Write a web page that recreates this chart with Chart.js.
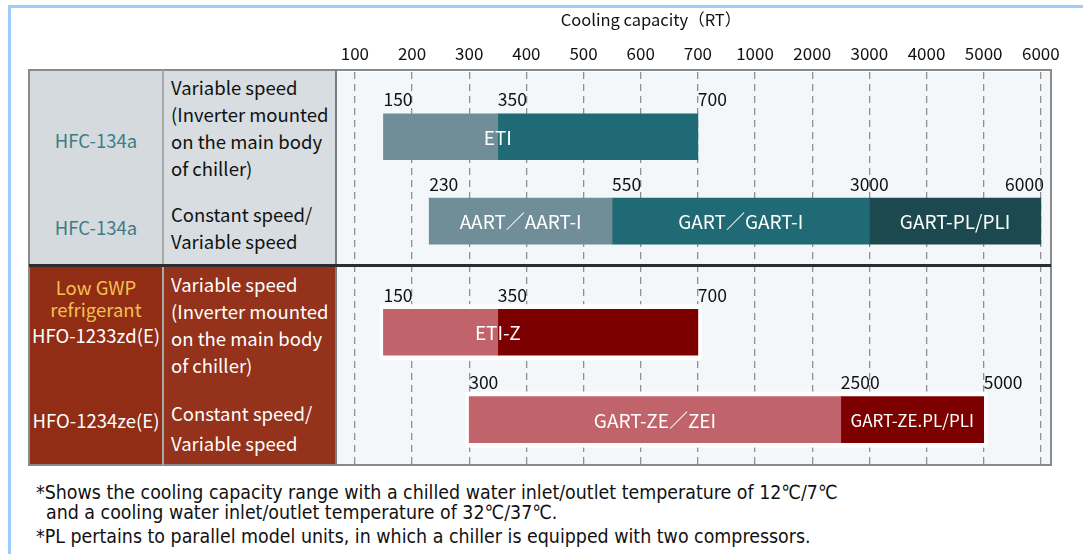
<!DOCTYPE html>
<html><head><meta charset="utf-8">
<script src="https://cdn.jsdelivr.net/npm/chart.js@4.4.1/dist/chart.umd.min.js"></script>
<style>
html,body{margin:0;padding:0;background:#fff;}
body{width:1083px;height:554px;overflow:hidden;position:relative;font-family:"Noto Sans CJK JP","Noto Sans",sans-serif;}
.abs{position:absolute;}
.t{position:absolute;white-space:nowrap;font-size:18.5px;line-height:26px;color:#111;}
.c1{left:29px;width:134px;text-align:center;font-size:18.5px;}
.c2{left:171px;}
.foot{position:absolute;left:36px;white-space:nowrap;font-family:"DejaVu Sans Condensed","DejaVu Sans",sans-serif;font-stretch:condensed;font-size:19.4px;line-height:22px;color:#111;}
</style></head>
<body>
<!-- light blue frame -->
<div class="abs" style="left:8px;top:5px;width:1075px;height:3px;background:#9fcbf9"></div>
<div class="abs" style="left:8px;top:5px;width:3px;height:549px;background:#9fcbf9"></div>

<!-- table cells -->
<div class="abs" style="left:29px;top:70px;width:134px;height:195px;background:#d4dadd"></div>
<div class="abs" style="left:163px;top:70px;width:173px;height:195px;background:#d7dde0"></div>
<div class="abs" style="left:29px;top:265px;width:134px;height:200px;background:#912c15"></div>
<div class="abs" style="left:163px;top:265px;width:173px;height:200px;background:#94321b"></div>

<!-- column 1 texts -->
<div class="t c1" style="top:127px;color:#3d7c86">HFC-134a</div>
<div class="t c1" style="top:214px;color:#3d7c86">HFC-134a</div>
<div class="t c1" style="top:276px;line-height:22px;color:#f1c24f">Low GWP<br>refrigerant</div>
<div class="t c1" style="top:322px;color:#fff">HFO-1233zd(E)</div>
<div class="t c1" style="top:407px;color:#fff">HFO-1234ze(E)</div>

<!-- column 2 texts -->
<div class="t c2" style="top:74px;line-height:27px">Variable speed<br>(Inverter mounted<br>on the main body<br>of chiller)</div>
<div class="t c2" style="top:201px;line-height:27px">Constant speed/<br>Variable speed</div>
<div class="t c2" style="top:271px;line-height:27px;color:#fff">Variable speed<br>(Inverter mounted<br>on the main body<br>of chiller)</div>
<div class="t c2" style="top:398px;line-height:30px;color:#fff">Constant speed/<br>Variable speed</div>

<!-- charts -->
<div class="abs" style="left:252px;top:0px;width:831px;height:265px"><canvas id="chartA"></canvas></div>
<div class="abs" style="left:252px;top:265px;width:831px;height:200px"><canvas id="chartB"></canvas></div>

<!-- table rules -->
<div class="abs" style="left:28px;top:69px;width:1024px;height:397px;box-sizing:border-box;border:2px solid #8a8a8a"></div>
<div class="abs" style="left:162px;top:70px;width:2px;height:395px;background:#a9a9a9"></div>
<div class="abs" style="left:335px;top:70px;width:2px;height:395px;background:#7b7b7b"></div>
<div class="abs" style="left:29px;top:264px;width:1022px;height:3px;background:#2c2c2c"></div>

<!-- footnotes -->
<div class="foot" style="top:482px">*Shows the cooling capacity range with a chilled water inlet/outlet temperature of 12℃/7℃</div>
<div class="foot" style="top:502px;left:46px">and a cooling water inlet/outlet temperature of 32℃/37℃.</div>
<div class="foot" style="top:526px">*PL pertains to parallel model units, in which a chiller is equipped with two compressors.</div>

<script>
// ---- data ----
const tickLabels = ['100','200','300','400','500','600','700','1000','2000','3000','4000','5000','6000'];
const rowNames   = ['HFC-134a variable', 'HFC-134a constant', 'HFO-1233zd(E) variable', 'HFO-1234ze(E) constant'];
const lowFrom    = [150, 230, 150, 300];
const lowTo      = [350, 550, 350, 2500];
const highTo     = [700, 3000, 700, 5000];
const plTo       = [null, 6000, null, null];
const lowModels  = [null, 'AART／AART-I', null, 'GART-ZE／ZEI'];
const highModels = [null, 'GART／GART-I', null, 'GART-ZE.PL/PLI'];
const plModels   = [null, 'GART-PL/PLI', null, null];
const rowModels  = ['ETI', null, 'ETI-Z', null];

// ---- styles ----
const lowColors  = ['#6f8e98', '#6f8e98', '#c0636a', '#c0636a'];
const highColors = ['#1f6a74', '#1f6a75', '#7c0000', '#7c0000'];
const plColors   = ['#1c494f', '#1c494f', '#1c494f', '#1c494f'];
const FONT = '"Noto Sans CJK JP", "Noto Sans", sans-serif';

const tickValues = tickLabels.map(Number);
// position on the evenly spaced capacity axis (piecewise between ticks)
function toPos(v) {
  for (let i = 0; i < tickValues.length - 1; i++) {
    if (v <= tickValues[i + 1]) return i + (v - tickValues[i]) / (tickValues[i + 1] - tickValues[i]);
  }
  return tickValues.length - 1;
}
const rowEnd = r => plTo[r] != null ? plTo[r] : highTo[r];

const bgPlugin = {
  id: 'areaBg',
  beforeDraw(chart) {
    const a = chart.chartArea, ctx = chart.ctx;
    ctx.save(); ctx.fillStyle = '#f4f7f9';
    ctx.fillRect(a.left, a.top, a.right - a.left, a.bottom - a.top);
    ctx.restore();
  },
  beforeDatasetsDraw(chart, args) {
    const o = chart.options.plugins.rangeLabels;
    if (!o.outline) return;
    const ctx = chart.ctx, xs = chart.scales.x, ys = chart.scales.y;
    ctx.save(); ctx.fillStyle = '#ffffff';
    o.rows.forEach((r, k) => {
      const yc = ys.getPixelForValue(k);
      const x0 = xs.getPixelForValue(toPos(lowFrom[r])) - 4;
      const x1 = xs.getPixelForValue(toPos(rowEnd(r))) + 4;
      ctx.fillRect(x0, yc - 28, x1 - x0, 56);
    });
    ctx.restore();
  }
};

const labelPlugin = {
  id: 'rangeLabels',
  afterDatasetsDraw(chart, args, opts) {
    const ctx = chart.ctx, xs = chart.scales.x, ys = chart.scales.y, area = chart.chartArea;
    ctx.save();
    opts.rows.forEach((r, k) => {
      const yc = ys.getPixelForValue(k);
      const bounds = [lowFrom[r], lowTo[r], highTo[r], plTo[r]].filter(v => v != null);
      ctx.font = '17.5px ' + FONT; ctx.fillStyle = '#111'; ctx.textBaseline = 'middle';
      bounds.forEach(v => {
        let x = xs.getPixelForValue(toPos(v));
        const w = ctx.measureText(String(v)).width;
        let align = (opts.align && opts.align[v]) || 'left';
        if (align === 'left' && x + w > area.right - 2) { align = 'right'; x = x + 3; }
        ctx.textAlign = align;
        ctx.fillText(String(v), x, yc - opts.labelOffset);
      });
      // model names
      ctx.fillStyle = '#fff'; ctx.textAlign = 'center';
      const put = (txt, a, b, size) => {
        if (!txt) return;
        ctx.font = size + 'px ' + FONT;
        const x = (xs.getPixelForValue(toPos(a)) + xs.getPixelForValue(toPos(b))) / 2;
        ctx.fillText(txt, x, yc + 1);
      };
      put(lowModels[r], lowFrom[r], lowTo[r], 19);
      put(highModels[r], lowTo[r], highTo[r], r === 3 ? 17 : 19);
      put(plModels[r], highTo[r], plTo[r], 19);
      put(rowModels[r], lowTo[r], lowTo[r], 19);
    });
    ctx.restore();
  }
};

function makeChart(id, rows, top, outline) {
  const ds = (from, to, colors) => ({
    data: rows.map((r, k) => ({r, k})).filter(o => from[o.r] != null && to[o.r] != null)
              .map(o => ({x: [toPos(from[o.r]), toPos(to[o.r])], y: o.k})),
    backgroundColor: c => colors[rows[c.raw ? c.raw.y : 0]],
    borderWidth: 0,
    borderSkipped: false,
    barThickness: 46,
    grouped: false
  });
  return new Chart(document.getElementById(id), {
    type: 'bar',
    data: {
      labels: rows.map(r => rowNames[r]),
      datasets: [
        ds(lowFrom, lowTo, lowColors),
        ds(lowTo, highTo, highColors),
        ds(highTo, plTo, plColors)
      ]
    },
    options: {
      indexAxis: 'y',
      responsive: true, maintainAspectRatio: false, animation: false,
      layout: {padding: {left: 0, top: 0, bottom: 0, right: 33}},
      scales: {
        x: {
          type: 'linear', position: 'top', min: -0.33, max: 12.16,
          afterBuildTicks: s => { s.ticks = tickLabels.map((_, i) => ({value: i})); },
          afterFit: s => { s.height = top ? 35 : 0; s.paddingLeft = 0; s.paddingRight = 0; },
          ticks: {display: top, padding: 8, color: '#111', font: {size: 17, family: FONT},
                  callback: v => tickLabels[v], maxRotation: 0, autoSkip: false},
          grid: {color: '#8f8f8f', lineWidth: 1.3, drawTicks: false},
          border: {display: false, dash: [7, 5]}
        },
        y: {
          type: 'linear', reverse: true, offset: false, min: -0.77, max: 1.52,
          afterFit: s => { s.width = 84; },
          ticks: {display: false}, grid: {display: false}, border: {display: false}
        }
      },
      plugins: {
        legend: {display: false}, tooltip: {enabled: false},
        title: top ? {display: true, text: 'Cooling capacity（RT）', color: '#111',
                      font: {size: 16.5, weight: 'normal', family: FONT}, padding: {top: 10, bottom: 7}} : {display: false},
        rangeLabels: {rows, outline, labelOffset: 37, align: {3000: 'center'}}
      }
    },
    plugins: [bgPlugin, labelPlugin]
  });
}

makeChart('chartA', [0, 1], true, false);
makeChart('chartB', [2, 3], false, true);
</script>
</body></html>
